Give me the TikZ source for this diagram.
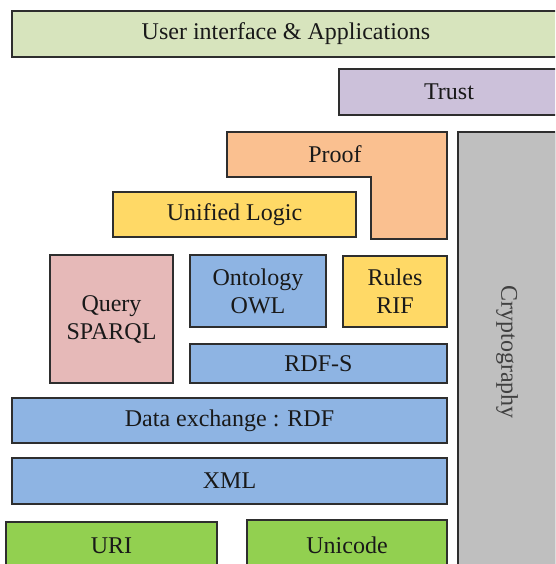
\documentclass[tikz,border=0pt]{standalone}
\usepackage{fontspec}
\setmainfont{Liberation Serif}
\usepackage{xcolor}
\definecolor{uigreen}{HTML}{D7E4BD}
\definecolor{trustlila}{HTML}{CCC1DA}
\definecolor{prooforange}{HTML}{FAC090}
\definecolor{logicyellow}{HTML}{FFD966}
\definecolor{querypink}{HTML}{E6B9B8}
\definecolor{rdfblue}{HTML}{8EB4E3}
\definecolor{cryptogray}{HTML}{BFBFBF}
\definecolor{basegreen}{HTML}{92D050}
\definecolor{edgegray}{HTML}{2E2E2E}

\begin{document}
\begin{tikzpicture}[x=1pt, y=-1pt,
    layer/.style={rectangle, draw=edgegray, line width=1.2pt, inner sep=0pt, align=center,
        text=black!90, font=\fontsize{24}{28}\selectfont},
    box/.style 2 args={layer, minimum width=#1pt, minimum height=#2pt}]
    \useasboundingbox (0,0) rectangle (555,564);
    \clip (0,0) rectangle (555,564);

    \node(ui) [box={548}{46}, fill=uigreen] at (286,34) {User interface \& Applications};
    \node(trust) [box={220}{46}, fill=trustlila] at (449,92) {Trust};
    \node(crypto) [box={440}{98}, fill=cryptogray, rotate=-90, text=black!75] at (507,352) {Cryptography};

    \filldraw[layer, fill=prooforange] (227,132) -- (447,132) -- (447,239) -- (371,239) -- (371,177) -- (227,177) -- cycle;
    \node(proof) [layer, draw=none] at (335,154.5) {Proof};

    \node(logic) [box={243}{45}, fill=logicyellow] at (234.5,214.5) {Unified Logic};
    \node(query) [box={123}{128}, fill=querypink] at (111.5,319) {Query\\SPARQL};
    \node(owl) [box={136}{72}, fill=rdfblue] at (258,291) {Ontology\\OWL};
    \node(rif) [box={104}{71}, fill=logicyellow] at (395,291.5) {Rules\\RIF};
    \node(rdfs) [box={257}{39}, fill=rdfblue] at (318.5,363.5) {RDF-S};
    \node(rdf) [box={435}{45}, fill=rdfblue] at (229.5,420.5) {Data exchange : RDF};
    \node(xml) [box={435}{46}, fill=rdfblue] at (229.5,481) {XML};
    \node(uri) [box={211}{48}, fill=basegreen] at (111.5,546) {URI};
    \node(unicode) [box={200}{50}, fill=basegreen] at (347,545) {Unicode};
\end{tikzpicture}
\end{document}
